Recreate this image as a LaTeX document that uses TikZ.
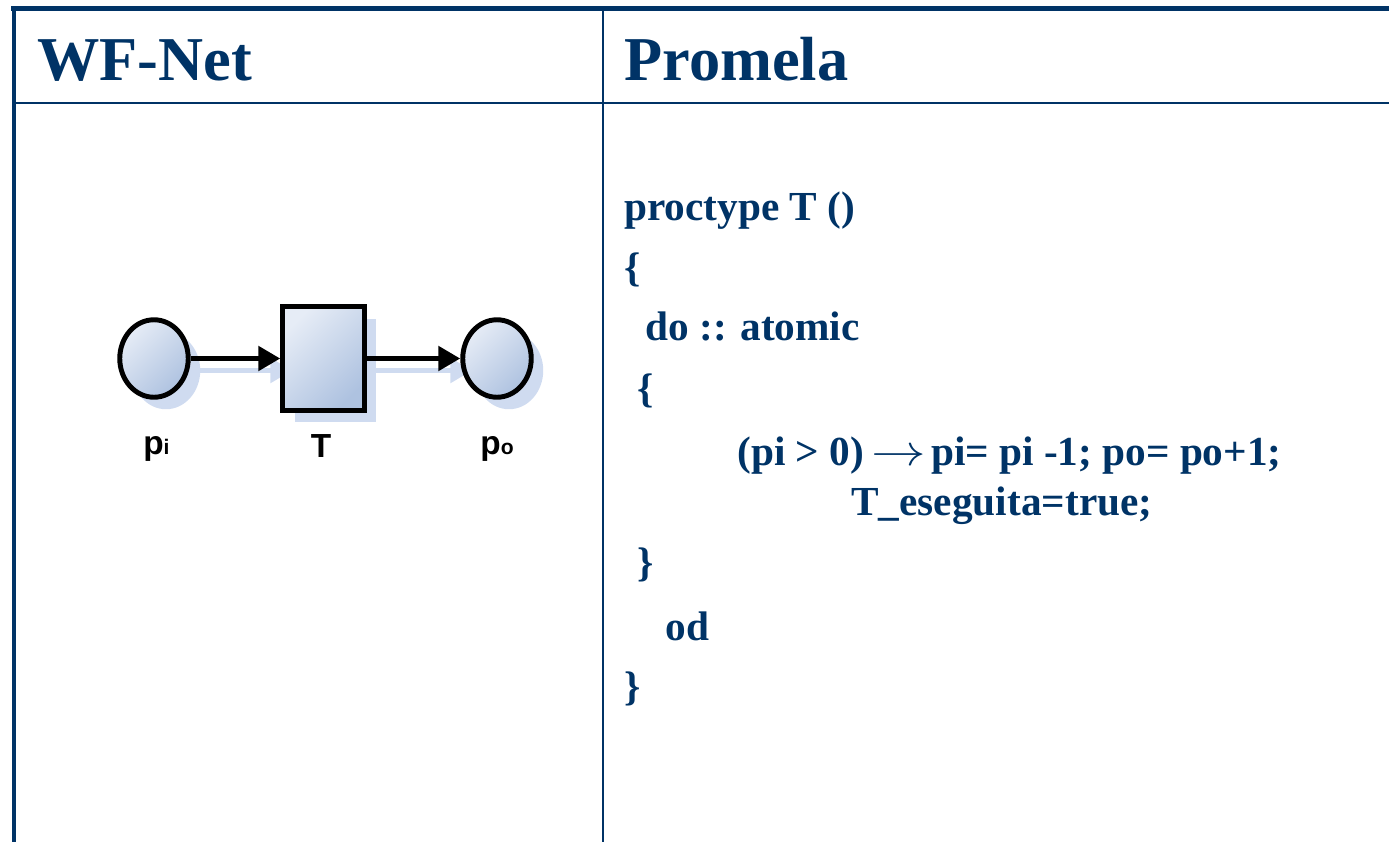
\documentclass[tikz,border=0pt]{standalone}
\usepackage{fontspec}
\setmainfont{Liberation Serif}
\newfontfamily\netfont{Liberation Sans}
\usepackage{graphicx}
\usepackage{tikz}
\usetikzlibrary{positioning, arrows.meta, calc, shapes.geometric, shadows, backgrounds}
\definecolor{myNavy}{HTML}{003366}
\definecolor{netLight}{HTML}{E6ECF6}
\definecolor{netDark}{HTML}{AEC2E0}
\definecolor{netShadow}{HTML}{CFDBF0}
\newcommand{\netsub}[1]{{\fontsize{12}{12}\selectfont #1}}
\newcommand{\codearrow}{\hspace{4pt}\scalebox{1.25}[1]{$\rightarrow$}\hspace{3pt}}

\begin{document}
\begin{tikzpicture}[x=0.02cm, y=-0.02cm,
  head/.style={anchor=base west, inner sep=0,
               font=\fontsize{35.5}{40}\selectfont\bfseries, text=myNavy},
  code/.style={anchor=base west, inner sep=0,
               font=\fontsize{23.5}{28}\selectfont\bfseries, text=myNavy},
  frame/.style={draw=myNavy, line width=2.8pt},
  rule/.style={draw=myNavy, line width=1.1pt},
  netshade/.style={top color=netLight, bottom color=netDark, shading angle=45,
                   general shadow={fill=netShadow, shadow xshift=0.24cm, shadow yshift=-0.24cm}},
  place/.style={ellipse, draw=black, line width=2.8pt, netshade,
                minimum width=1.37cm, minimum height=1.55cm},
  trans/.style={rectangle, draw=black, line width=2.8pt, netshade,
                minimum width=1.63cm, minimum height=2.07cm},
  netlbl/.style={inner sep=0, font=\netfont\fontsize{19}{22}\selectfont\bfseries},
  arr/.style={-{Triangle[length=0.44cm, width=0.48cm]}, line width=3pt, black},
  arrshadow/.style={-{Triangle[length=0.44cm, width=0.48cm]}, line width=3.4pt, netShadow}
]
\useasboundingbox (0,0) rectangle (1389,842);

% table
\draw[frame] (11,8.5) -- (1389,8.5);
\draw[frame] (14,6) -- (14,842);
\draw[rule] (14,103) -- (1389,103);
\draw[rule] (603,8.5) -- (603,842);

\node[head] (hnet) at (37,80) {WF-Net};
\node[head] (hpro) at (624,80) {Promela};

% net
\node[place] (pi) at (154,358.5) {};
\node[trans] (T)  at (323.5,358.5) {};
\node[place] (po) at (497,358.5) {};

\node[netlbl, anchor=base west] (lpi) at (143,454) {p\netsub{i}};
\node[netlbl, anchor=base]      (lT)  at (321,457) {T};
\node[netlbl, anchor=base west] (lpo) at (480,454) {p\netsub{o}};

\draw[arr] (pi) -- (T);
\draw[arr] (T) -- (po);

\begin{scope}[on background layer]
\draw[arrshadow] ($(pi.east)+(0,12)$) -- ($(T.west)+(12,12)$);
\draw[arrshadow] ($(T.east)+(0,12)$) -- ($(po.west)+(12,12)$);
\end{scope}

% code
\node[code] (c1) at (624,220) {proctype T ()};
\node[code] (c2) at (624,281) {\{};
\node[code] (c3) at (645,340) {do :: atomic};
\node[code] (c4) at (637,402) {\{};
\node[code] (c5) at (737,465) {(pi > 0)\codearrow pi= pi -1; po= po+1;};
\node[code] (c6) at (851,515) {T\_eseguita=true;};
\node[code] (c7) at (637,576) {\}};
\node[code] (c8) at (665,640) {od};
\node[code] (c9) at (624,700) {\}};
\end{tikzpicture}
\end{document}
